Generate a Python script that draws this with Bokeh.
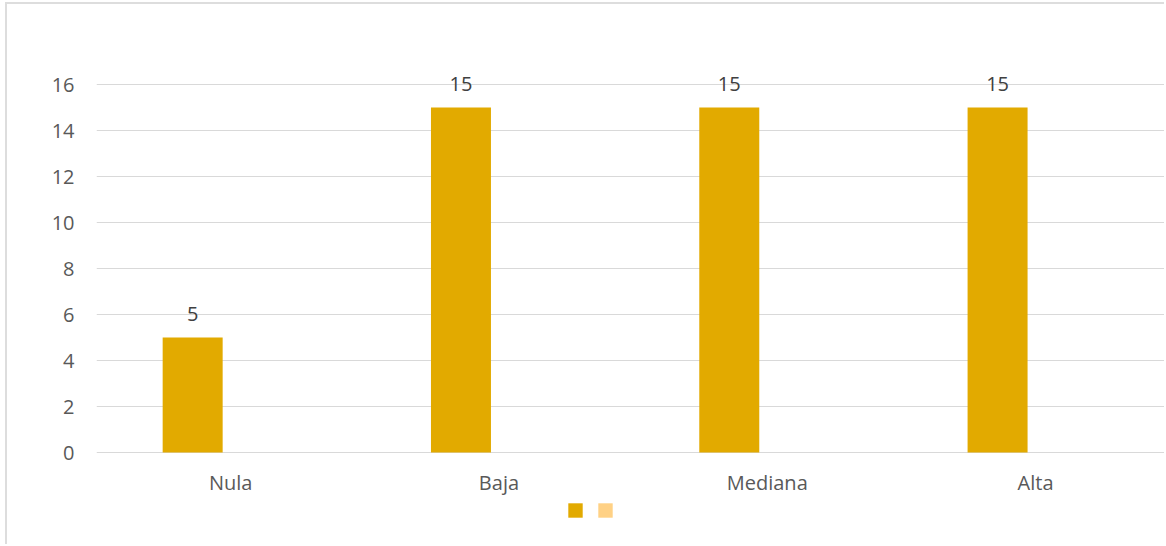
from bokeh.plotting import figure
from bokeh.models import (ColumnDataSource, Range1d, FixedTicker, LabelSet,
                          Legend, LegendItem)
from bokeh.core.properties import value
from bokeh.embed import file_html
from bokeh.resources import INLINE

categories = ["Nula", "Baja", "Mediana", "Alta"]
serie1 = [5, 15, 15, 15]
serie2 = [0, 0, 0, 0]
y_ticks = [0, 2, 4, 6, 8, 10, 12, 14, 16]

FONT = "Open Sans"
GOLD = "#E2AA00"
LIGHT = "#FFD185"
GRID = "#D9D9D9"

idx = list(range(len(categories)))
off = 0.1416
bw = 0.2236
src = ColumnDataSource(dict(
    x1=[i - off for i in idx], x2=[i + off for i in idx], xc=idx,
    s1=serie1, s2=serie2, lab=[str(v) for v in serie1],
    zero=[0] * len(idx), cat=categories,
))

# 23 px per unit; 0 -> y=452, 16 -> y=84; frame extended so labels and legend are not clipped
p = figure(width=1159, height=542, output_backend="svg", toolbar_location=None,
           x_range=Range1d(-0.5, 3.488), y_range=Range1d(-4, 19),
           min_border_left=89, min_border_right=0, min_border_top=11,
           min_border_bottom=2,
           styles={"margin-left": "5px", "margin-top": "2px",
                   "border-left": "2px solid #DDDDDD", "border-top": "2px solid #DDDDDD"})
p.outline_line_color = None
p.background_fill_color = "white"
p.border_fill_color = "white"

r1 = p.vbar(x="x1", top="s1", width=bw, source=src, fill_color=GOLD, line_color=None)
r2 = p.vbar(x="x2", top="s2", width=bw, source=src, fill_color=LIGHT, line_color=None)

labels = LabelSet(x="x1", y="s1", text="lab", source=src, text_align="center",
                  text_baseline="alphabetic", y_offset=17, text_font=value(FONT),
                  text_font_size="20px", text_color="#404040")
p.add_layout(labels)

cat_labels = LabelSet(x="xc", y="zero", text="cat", source=src, text_align="center",
                      text_baseline="alphabetic", y_offset=-37, text_font=value(FONT),
                      text_font_size="20px", text_color="#595959")
p.add_layout(cat_labels)

p.xaxis.visible = False

p.yaxis.ticker = FixedTicker(ticks=y_ticks)
p.yaxis.axis_line_color = None
p.yaxis.major_tick_line_color = None
p.yaxis.minor_tick_line_color = None
p.yaxis.major_tick_out = 0
p.yaxis.major_tick_in = 0
p.yaxis.major_label_standoff = 22
p.yaxis.major_label_text_font = FONT
p.yaxis.major_label_text_font_size = "20px"
p.yaxis.major_label_text_color = "#595959"

p.xgrid.grid_line_color = None
p.ygrid.ticker = FixedTicker(ticks=y_ticks)
p.ygrid.grid_line_color = GRID
p.ygrid.grid_line_width = 1

legend = Legend(items=[LegendItem(label="\u00a0", renderers=[r1]),
                       LegendItem(label="\u00a0", renderers=[r2])],
                orientation="horizontal", location=(470, 25),
                glyph_width=18, glyph_height=18, label_height=18, label_width=0,
                label_standoff=0, spacing=12, padding=0, margin=0,
                label_text_font_size="1px", border_line_color=None,
                background_fill_alpha=0)
p.add_layout(legend, "center")

open("out.html", "w").write(file_html(p, INLINE))
